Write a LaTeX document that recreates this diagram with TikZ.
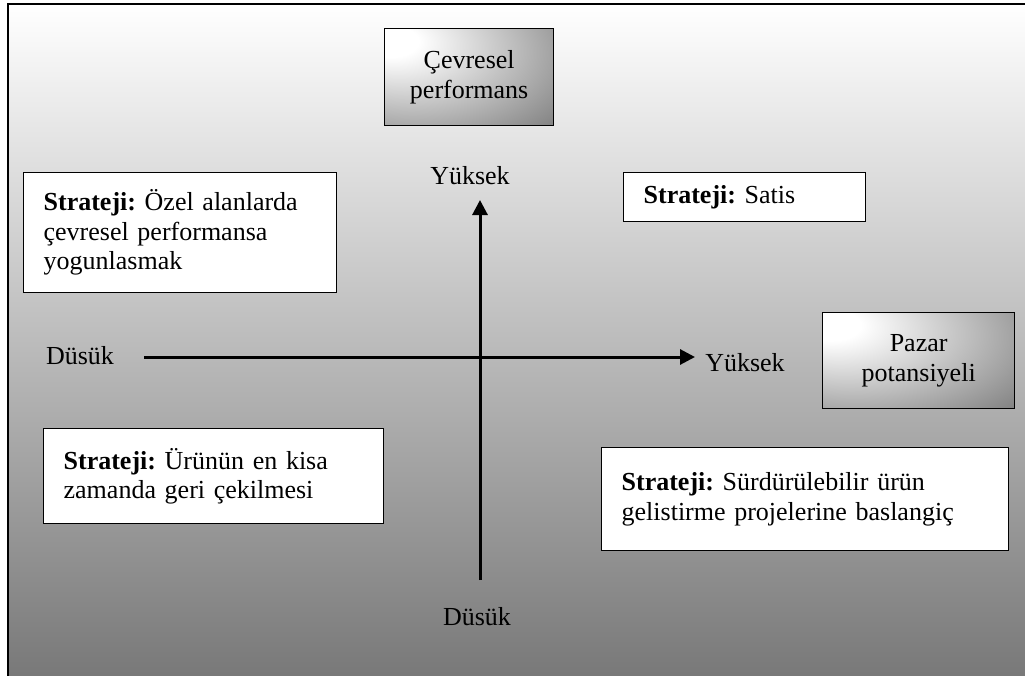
\documentclass[tikz,border=0pt]{standalone}
\usepackage{fontspec}
\setmainfont{Liberation Serif}
\usetikzlibrary{arrows.meta}
\frenchspacing
\pgfdeclareradialshading{cornerglow}{\pgfpoint{-25bp}{20bp}}{color(0bp)=(white); color(8bp)=(white); color(58bp)=(black!57); color(100bp)=(black!57)}
\tikzset{
  txt/.style={font=\fontsize{26}{29.5}\selectfont},
  stratbox/.style={txt, draw=black, line width=1.3pt, fill=white, align=left,
    inner xsep=20pt, inner ysep=0pt, anchor=north west},
  shadedbox/.style={txt, draw=black, line width=1.3pt, shading=cornerglow,
    align=center, inner sep=0pt, anchor=north west},
  axisline/.style={line width=3pt, -{Triangle[length=15pt,width=15pt]}},
  lbl/.style={txt, inner sep=0pt}
}
\begin{document}
\begin{tikzpicture}[x=1pt,y=-1pt]
  \useasboundingbox (0,0) rectangle (1025,675);
  \begin{scope}
    \clip (0,0) rectangle (1025,675);
    \shade[top color=white, middle color=black!21, bottom color=black!53]
      (7.5,4) rectangle (1030,680);
    \draw[line width=2pt] (7.5,690) -- (7.5,4) -- (1030,4);
  \end{scope}

  % title boxes
  \node[shadedbox, minimum width=169pt, minimum height=97pt] (env) at (384,28)
    {Çevresel\\performans};
  \node[shadedbox, minimum width=192pt, minimum height=96pt] (mkt) at (822,312)
    {Pazar\\potansiyeli};

  % strategy boxes
  \node[stratbox, text width=273pt, minimum height=120pt] (tl) at (23,172)
    {\textbf{Strateji:} Özel alanlarda\\çevresel performansa\\yogunlasmak};
  \node[stratbox, text width=202pt, minimum height=49pt] (tr) at (623,172)
    {\textbf{Strateji:} Satis};
  \node[stratbox, text width=300pt, minimum height=95pt] (bl) at (43,428)
    {\textbf{Strateji:} Ürünün en kisa\\zamanda geri çekilmesi};
  \node[stratbox, text width=367pt, minimum height=103pt] (br) at (601,447)
    {\textbf{Strateji:} Sürdürülebilir ürün\\gelistirme projelerine baslangiç};

  % axis labels
  \node[lbl] (ytop) at (470,176) {Yüksek};
  \node[lbl] (ybot) at (477,617) {Düsük};
  \node[lbl] (xlow) at (80,356) {Düsük};
  \node[lbl] (xhigh) at (745,363) {Yüksek};

  % axes
  \coordinate (vstart) at (480,580);
  \coordinate (vend) at (480,200);
  \coordinate (hstart) at (144,357);
  \coordinate (hend) at (695,357);
  \draw[axisline] (vstart) -- (vend);
  \draw[axisline] (hstart) -- (hend);
\end{tikzpicture}
\end{document}
